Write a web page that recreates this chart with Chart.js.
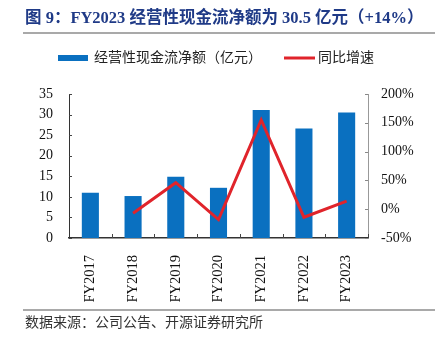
<!DOCTYPE html>
<html><head><meta charset="utf-8">
<style>html,body{margin:0;padding:0;background:#fff;}canvas{display:block;}</style>
<script src="https://cdn.jsdelivr.net/npm/chart.js@4/dist/chart.umd.min.js"></script>
</head><body>
<canvas id="c" width="435" height="342"></canvas>
<script>
const categories = ['FY2017','FY2018','FY2019','FY2020','FY2021','FY2022','FY2023'];
const cashFlow = [11.0, 10.2, 14.9, 12.2, 31.1, 26.6, 30.5];
const growth = [null, -7, 46, -18, 155, -14, 14];
const seriesNames = ['经营性现金流净额（亿元）', '同比增速'];
const titleText = '图 9：FY2023 经营性现金流净额为 30.5 亿元（+14%）';
const sourceText = '数据来源：公司公告、开源证券研究所';

const BAR_COLOR = '#0A70C0';
const LINE_COLOR = '#E0242B';
const SERIF = '"Liberation Serif", "Noto Sans CJK SC", serif';
const CJK = '"Liberation Serif", "Noto Sans CJK SC", sans-serif';

const decor = {
  id: 'decor',
  afterDraw(chart) {
    const ctx = chart.ctx;
    ctx.save();
    // title
    ctx.fillStyle = '#1F3A87';
    ctx.font = 'bold 16.5px ' + CJK;
    ctx.textBaseline = 'middle';
    ctx.textAlign = 'left';
    ctx.fillText(titleText, 25, 19);
    // rules
    ctx.strokeStyle = '#8C8C8C';
    ctx.lineWidth = 1.5;
    ctx.beginPath(); ctx.moveTo(23, 33); ctx.lineTo(435, 33); ctx.stroke();
    ctx.beginPath(); ctx.moveTo(23, 310); ctx.lineTo(435, 310); ctx.stroke();
    // source
    ctx.fillStyle = '#333';
    ctx.font = '14px ' + CJK;
    ctx.fillText(sourceText, 25, 323);
    // legend
    ctx.fillStyle = BAR_COLOR;
    ctx.fillRect(58, 55, 30, 6);
    ctx.fillStyle = '#222';
    ctx.font = '14px ' + CJK;
    ctx.fillText(seriesNames[0], 94, 58);
    ctx.strokeStyle = LINE_COLOR;
    ctx.lineWidth = 3;
    ctx.beginPath(); ctx.moveTo(284, 58); ctx.lineTo(315, 58); ctx.stroke();
    ctx.fillText(seriesNames[1], 318, 58);
    // tick marks
    const x = chart.scales.x, y = chart.scales.y, y1 = chart.scales.y1;
    ctx.strokeStyle = '#444';
    ctx.lineWidth = 1;
    for (let i = 1; i <= categories.length; i++) {
      const px = i < categories.length ? (x.getPixelForTick(i) + x.getPixelForTick(i - 1)) / 2 : x.right;
      ctx.beginPath(); ctx.moveTo(Math.round(px) + 0.5, y.bottom); ctx.lineTo(Math.round(px) + 0.5, y.bottom - 4); ctx.stroke();
    }
    y.ticks.forEach((t) => {
      const py = Math.round(y.getPixelForValue(t.value)) + 0.5;
      ctx.beginPath(); ctx.moveTo(y.right, py); ctx.lineTo(y.right + 3, py); ctx.stroke();
    });
    ctx.strokeStyle = '#888';
    y1.ticks.forEach((t) => {
      const py = Math.round(y1.getPixelForValue(t.value)) + 0.5;
      ctx.beginPath(); ctx.moveTo(y1.left, py); ctx.lineTo(y1.left - 3, py); ctx.stroke();
    });
    ctx.restore();
  }
};

new Chart(document.getElementById('c'), {
  data: {
    labels: categories,
    datasets: [
      { type: 'line', label: seriesNames[1], data: growth, yAxisID: 'y1', borderColor: LINE_COLOR, borderWidth: 3, pointRadius: 0, tension: 0, order: 0, spanGaps: false },
      { type: 'bar', label: seriesNames[0], data: cashFlow, yAxisID: 'y', backgroundColor: BAR_COLOR, categoryPercentage: 1, barPercentage: 0.4, order: 1 }
    ]
  },
  options: {
    responsive: false,
    animation: false,
    devicePixelRatio: 1,
    layout: { padding: { top: 94, bottom: 0, left: 0, right: 0 } },
    plugins: { legend: { display: false }, title: { display: false }, tooltip: { enabled: false } },
    scales: {
      x: {
        grid: { display: false, offset: true, drawTicks: false },
        border: { display: true, color: '#333', width: 1.5 },
        ticks: { minRotation: 90, maxRotation: 90, padding: 17, color: '#111', font: { family: SERIF, size: 14.5 } },
        afterFit: (s) => { s.height = 104; }
      },
      y: {
        position: 'left', min: 0, max: 35,
        grid: { display: false, drawTicks: false },
        border: { display: true, color: '#333', width: 1 },
        ticks: { stepSize: 5, padding: 16, color: '#111', font: { family: SERIF, size: 14 } },
        afterFit: (s) => { s.width = 69; }
      },
      y1: {
        position: 'right', min: -50, max: 200,
        grid: { display: false, drawTicks: false },
        border: { display: true, color: '#999', width: 1 },
        ticks: { stepSize: 50, padding: 13, color: '#111', font: { family: SERIF, size: 14 }, callback: (v) => v + '%' },
        afterFit: (s) => { s.width = 67; }
      }
    }
  },
  plugins: [decor]
});
</script>
</body></html>
